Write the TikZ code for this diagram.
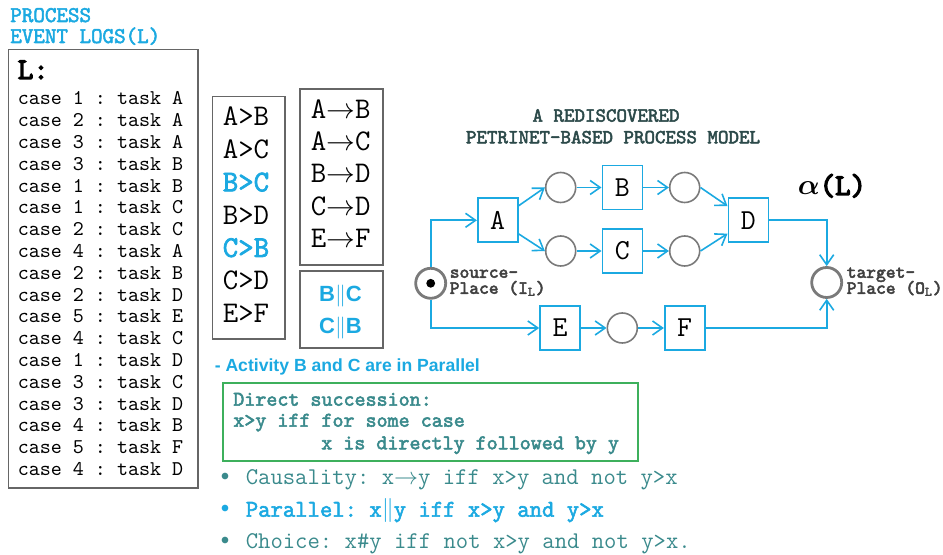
\documentclass[tikz,border=0pt]{standalone}
\usepackage{fontspec}
\setmainfont{Liberation Serif}
\setsansfont{Liberation Sans}
\setmonofont{Latin Modern Mono}[BoldFont={Latin Modern Mono},BoldFeatures={FakeBold=2.5}]
\newfontfamily\heavytt{Latin Modern Mono}[FakeBold=4.5]
\usetikzlibrary{arrows.meta}
\definecolor{netblue}{HTML}{1BA9E1}
\definecolor{noteteal}{HTML}{3A8A8C}
\definecolor{titleslate}{HTML}{2C4A4A}
\definecolor{defgreen}{HTML}{3DB05C}
\definecolor{framegray}{HTML}{666666}
\definecolor{placegray}{HTML}{7A7A7A}
\newcommand{\ttsize}[1]{\ttfamily\fontsize{#1}{#1}\selectfont}
\newcommand{\dotitem}{\makebox[12.5pt][l]{\raisebox{2pt}{\fontsize{8}{8}\selectfont$\bullet$}}}
\newcommand{\transition}[3]{%
 \node[trans] (#1) at (#2) {#3};%
}
\newcommand{\place}[2]{%
 \node[place] (#1) at (#2) {};%
}

\begin{document}
\begin{tikzpicture}[x=0.5pt,y=-0.5pt,
  >={Straight Barb[length=5pt,width=7pt]},
  every node/.style={inner sep=0pt},
  frame/.style={draw=framegray,line width=0.8pt},
  heading/.style={anchor=base west,text=netblue,font=\ttsize{11.2}\bfseries},
  logrow/.style={anchor=base west,font=\ttsize{10.5}},
  pair/.style={anchor=base west,font=\ttsize{15}},
  pairhl/.style={pair,text=netblue,font=\ttsize{15}\bfseries},
  par/.style={anchor=base,text=netblue,font=\sffamily\fontsize{11}{11}\selectfont\bfseries},
  defline/.style={anchor=base west,text=noteteal,font=\ttsize{10.5}\bfseries},
  bullet/.style={anchor=base west,text=noteteal,font=\ttsize{12}},
  trans/.style={draw=netblue,line width=0.8pt,minimum width=20pt,minimum height=22pt,font=\ttsize{14.5}},
  place/.style={circle,draw=placegray,line width=0.8pt,minimum size=15pt},
  endplace/.style={place,line width=1.4pt},
  netlabel/.style={anchor=base west,text=black!75,font=\ttsize{9.3}\bfseries},
  nettitle/.style={anchor=base,text=titleslate,font=\ttsize{10}\bfseries},
  every path/.style={line width=0.8pt}]
 \useasboundingbox (0,0) rectangle (943,555);
 % event log
 \node[heading] (hd1) at (9.5,22) {PROCESS};
 \node[heading] (hd2) at (9.5,43) {EVENT LOGS(L)};
 \draw[frame] (8.3,49.5) rectangle (197.7,488);
 \node[anchor=base west,font=\heavytt\fontsize{15}{15}\selectfont] (logname) at (17,79) {L:};
 \foreach \c/\t [count=\i] in {1/A,2/A,3/A,3/B,1/B,1/C,2/C,4/A,2/B,2/D,5/E,4/C,1/D,3/C,3/D,4/B,5/F,4/D}
  \node[logrow] (row\i) at (17,{105+21.8*(\i-1)}) {case \c\ : task \t};
 % footprint relations
 \draw[frame] (212.3,96.7) rectangle (285,339.3);
 \foreach \r/\s [count=\i] in {A>B/pair,A>C/pair,B>C/pairhl,B>D/pair,C>B/pairhl,C>D/pair,E>F/pair}
  \node[\s] (succ\i) at (222,{125.7+32.8*(\i-1)}) {\r};
 \draw[frame] (300,89) rectangle (382.7,265);
 \foreach \a/\b [count=\i] in {A/B,A/C,B/D,C/D,E/F}
  \node[pair] (caus\i) at (310,{118.3+32.35*(\i-1)}) {\a$\rightarrow$\b};
 \draw[frame] (300,271) rectangle (382.7,348.3);
 \node[par] (par1) at (340.5,301.7) {B$\|$C};
 \node[par] (par2) at (340.5,333.3) {C$\|$B};
 \node[anchor=base west,text=netblue,font=\sffamily\fontsize{8.8}{8.8}\selectfont\bfseries] (note) at (214,371.7) {- Activity B and C are in Parallel};
 % definitions
 \draw[draw=defgreen,line width=0.8pt] (222.7,383.3) rectangle (637.7,461);
 \node[defline] (def1) at (232.5,405.7) {Direct succession:};
 \node[defline] (def2) at (232.5,426.7) {x>y iff for some case};
 \node[defline] (def3) at (320.5,449.3) {x is directly followed by y};
 \node[bullet] (rel1) at (220,485) {\dotitem Causality: x$\rightarrow$y iff x>y and not y>x};
 \node[bullet,text=netblue,font=\ttsize{12}\bfseries] (rel2) at (220,516.7) {\dotitem Parallel: x$\|$y iff x>y and y>x};
 \node[bullet] (rel3) at (220,548.3) {\dotitem Choice: x\#y iff not x>y and not y>x.};
 % petri net
 \node[nettitle] (title1) at (606,121.7) {A REDISCOVERED};
 \node[nettitle] (title2) at (613,143.3) {PETRINET-BASED PROCESS MODEL};
 \node[anchor=base west,font=\heavytt\fontsize{15}{15}\selectfont] (alpha) at (797,195) {{\boldmath$\alpha$}(L)};
 \node[endplace] (src) at (430.7,283.3) {};
 \fill[black] (src.center) circle (2.2pt);
 \node[endplace] (tgt) at (826.7,282.5) {};
 \node[netlabel] (srcl1) at (449,277.8) {source-};
 \node[netlabel] (srcl2) at (449,293.8) {Place (I\textsubscript{L})};
 \node[netlabel] (tgtl1) at (846,277.8) {target-};
 \node[netlabel] (tgtl2) at (846,293.8) {Place (O\textsubscript{L})};
 \transition{A}{497.7,220.3}{A}
 \transition{B}{622.3,187.5}{B}
 \transition{C}{622.3,251}{C}
 \transition{D}{748.3,220.3}{D}
 \transition{E}{560,328}{E}
 \transition{F}{684.7,328}{F}
 \place{p1}{560.7,187.5}
 \place{p2}{560.7,251}
 \place{p3}{684.7,187.5}
 \place{p4}{684.7,251}
 \place{p5}{622.3,328}
 \draw[->,netblue] (src) |- (A);
 \draw[->,netblue] (src) |- (E);
 \draw[->,netblue] (A) -- (p1.west);
 \draw[->,netblue] (A) -- (p2.west);
 \draw[->,netblue] (p1) -- (B);
 \draw[->,netblue] (p2) -- (C);
 \draw[->,netblue] (B) -- (p3);
 \draw[->,netblue] (C) -- (p4);
 \draw[->,netblue] (p3.east) -- (D);
 \draw[->,netblue] (p4.east) -- (D);
 \draw[->,netblue] (E) -- (p5);
 \draw[->,netblue] (p5) -- (F);
 \draw[->,netblue] (D) -| (tgt);
 \draw[->,netblue] (F) -| (tgt);
\end{tikzpicture}
\end{document}
